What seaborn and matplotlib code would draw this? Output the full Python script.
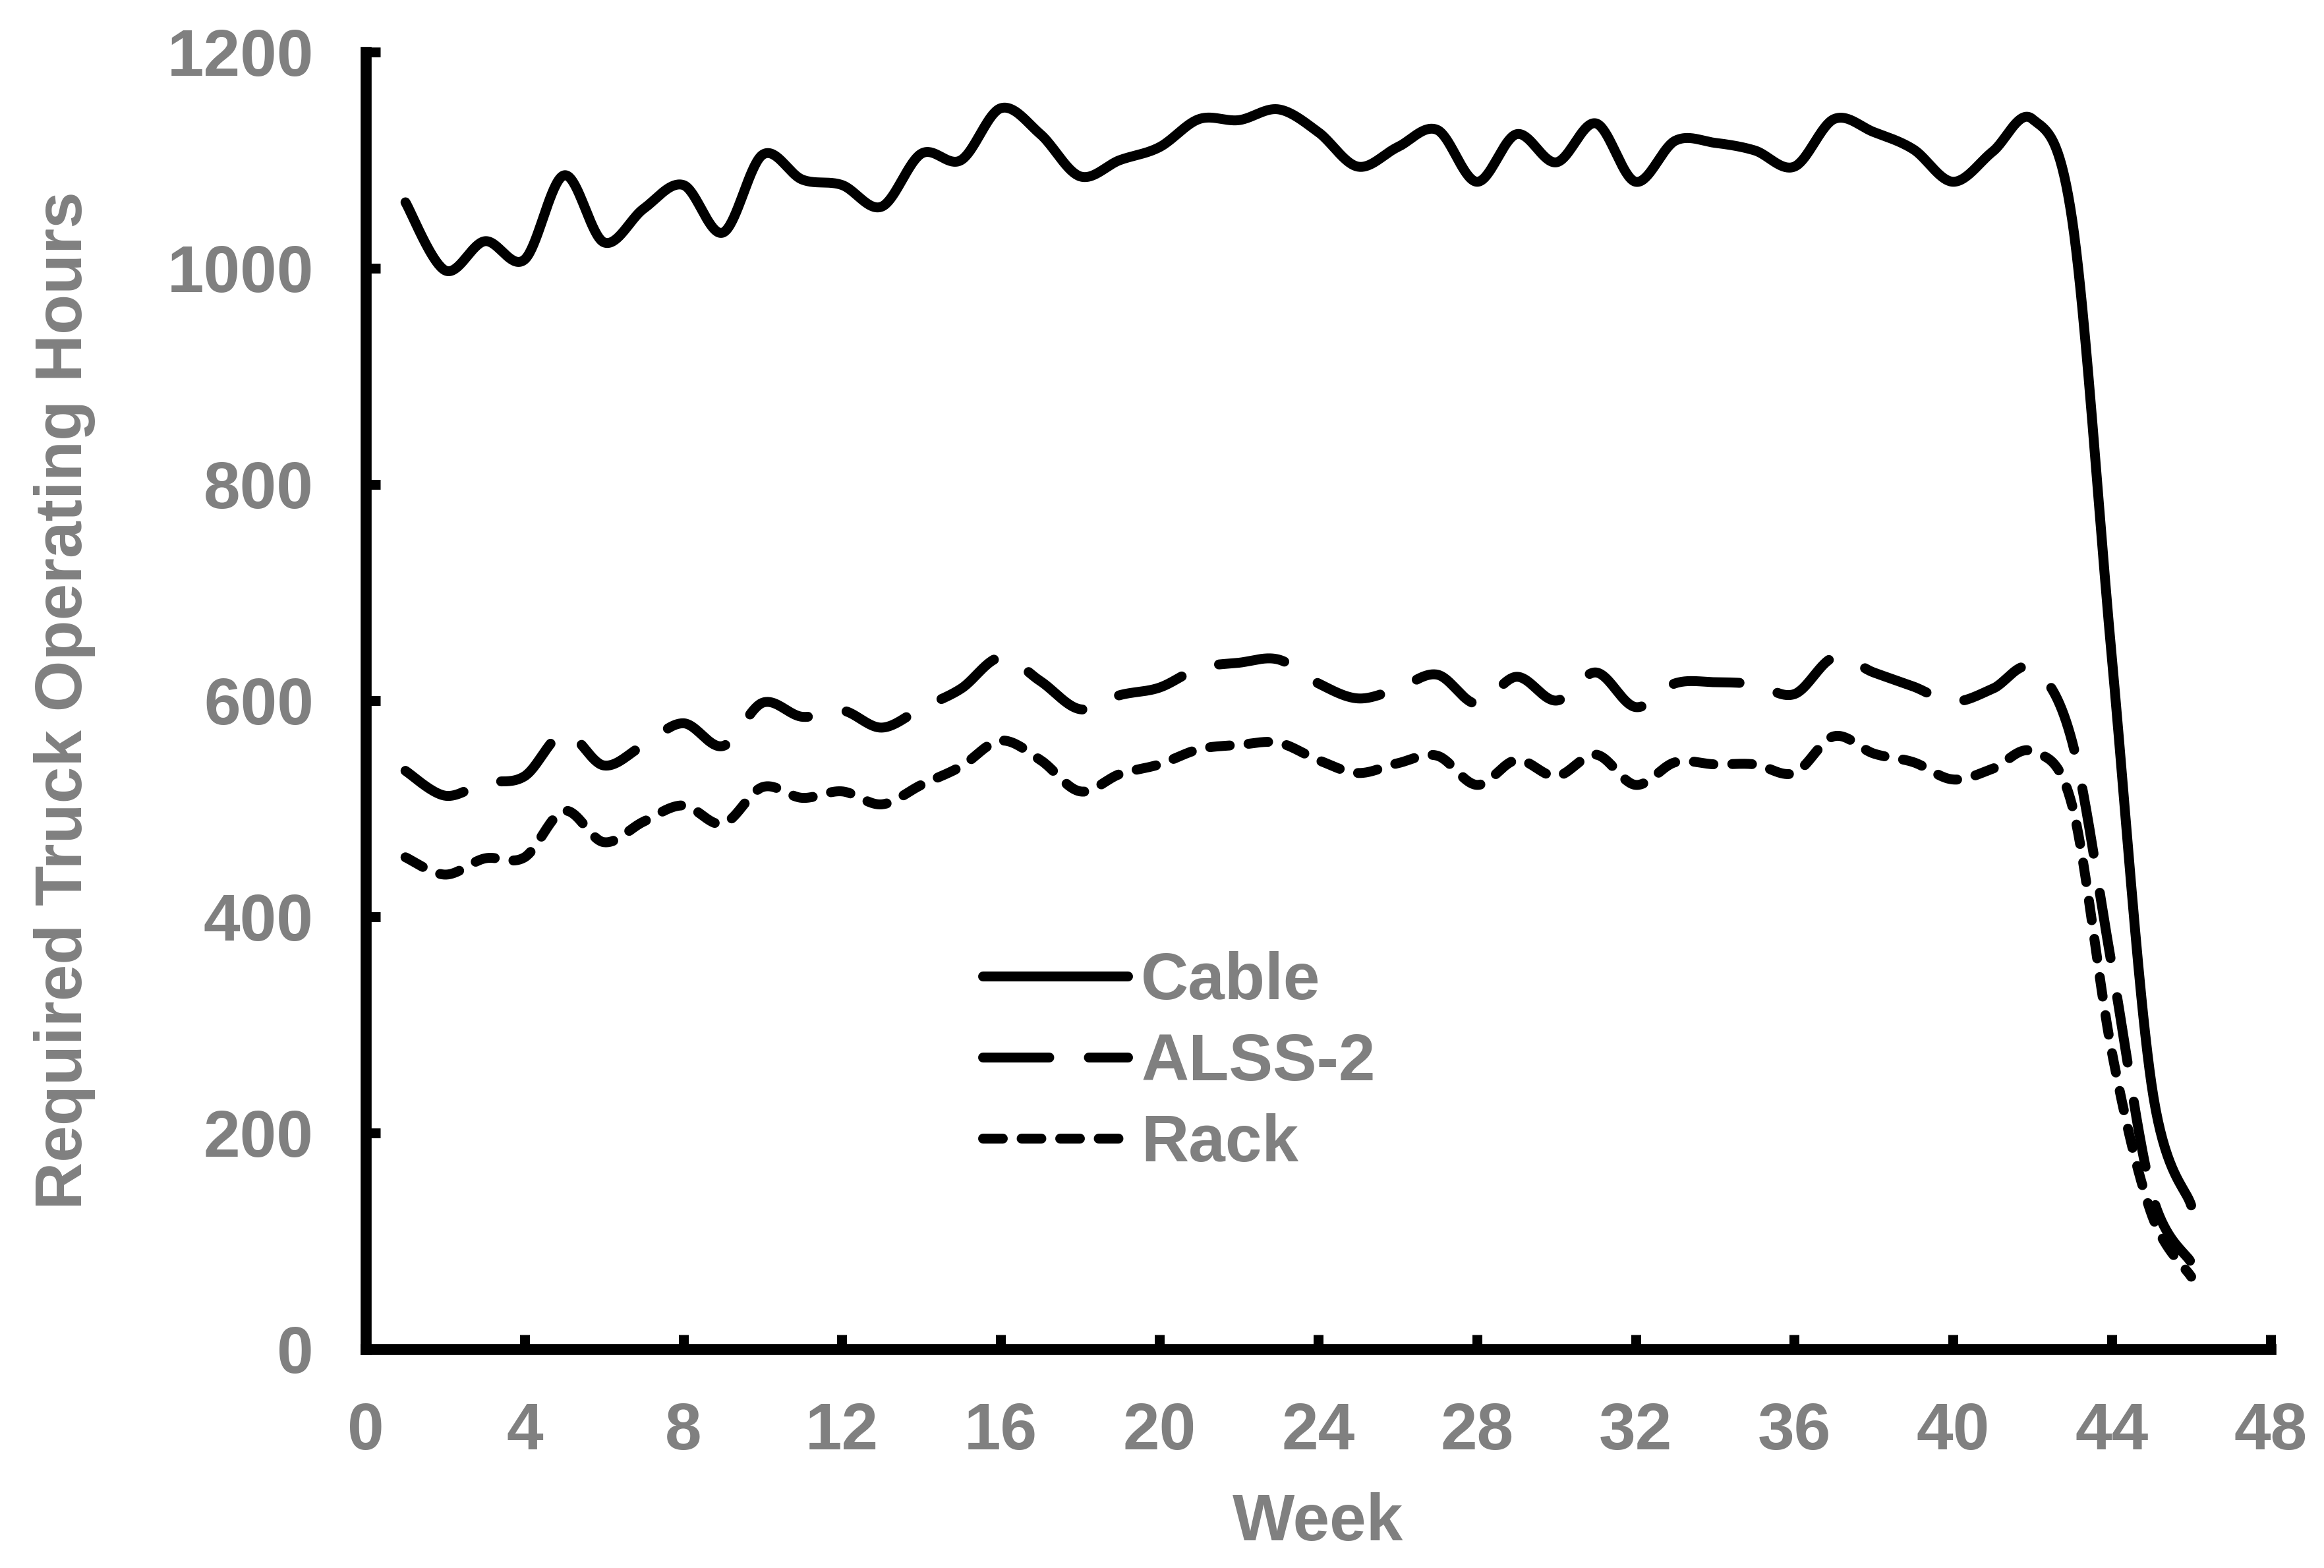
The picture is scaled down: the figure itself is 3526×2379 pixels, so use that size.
import numpy as np
import pandas as pd
import seaborn as sns
import matplotlib.pyplot as plt
from matplotlib.lines import Line2D

# Weekly truck operating hours
weeks = [1, 2, 3, 4, 5, 6, 7, 8, 9, 10,
         11, 12, 13, 14, 15, 16, 17, 18, 19, 20,
         21, 22, 23, 24, 25, 26, 27, 28, 29, 30,
         31, 32, 33, 34, 35, 36, 37, 38, 39, 40,
         41, 42, 43, 44, 45, 46]
cable = [1061, 998, 1025, 1008, 1086, 1024, 1055, 1077, 1033, 1105,
         1082, 1077, 1057, 1106, 1100, 1148, 1124, 1085, 1100, 1112,
         1138, 1137, 1147, 1126, 1094, 1112, 1128, 1080, 1124, 1098,
         1134, 1080, 1118, 1116, 1109, 1094, 1138, 1126, 1110, 1080,
         1108, 1138, 1045, 640, 245, 133]
alss2 = [535, 512, 524, 530, 570, 540, 559, 579, 558, 598,
         585, 591, 575, 593, 611, 640, 618, 592, 605, 612,
         630, 635, 638, 616, 602, 611, 624, 597, 622, 600,
         626, 594, 616, 617, 615, 606, 640, 626, 613, 599,
         611, 630, 562, 355, 145, 80]
rack = [455, 439, 454, 455, 498, 469, 488, 503, 486, 520,
        510, 516, 504, 522, 539, 563, 545, 516, 532, 541,
        555, 559, 561, 545, 533, 542, 549, 522, 545, 530,
        550, 522, 543, 541, 541, 533, 567, 551, 543, 527,
        537, 553, 503, 275, 125, 67]

series_names = ["Cable", "ALSS-2", "Rack"]
x_ticks = [0, 4, 8, 12, 16, 20, 24, 28, 32, 36, 40, 44, 48]
y_ticks = [0, 200, 400, 600, 800, 1000, 1200]

GREY = "#808080"
LW = 3.6
styles = {
    "Cable": "-",
    "ALSS-2": (0, (6.7, 4.0)),
    "Rack": (0, (2.0, 1.9)),
}


def smooth_curve(x, y, n=40):
    # Excel-style smoothed line: cubic Bezier through each point
    x = np.asarray(x, float)
    y = np.asarray(y, float)
    pts = np.column_stack([x, y])
    out = []
    t = np.linspace(0, 1, n)[:, None]
    for i in range(len(pts) - 1):
        p0 = pts[max(i - 1, 0)]
        p1 = pts[i]
        p2 = pts[i + 1]
        p3 = pts[min(i + 2, len(pts) - 1)]
        c1 = p1 + (p2 - p0) / 6
        c2 = p2 - (p3 - p1) / 6
        seg = ((1 - t) ** 3) * p1 + 3 * ((1 - t) ** 2) * t * c1 \
            + 3 * (1 - t) * t ** 2 * c2 + t ** 3 * p2
        out.append(seg if i == 0 else seg[1:])
    out = np.vstack(out)
    return out[:, 0], out[:, 1]


sns.set_style("white")
plt.rcParams["font.family"] = ["Liberation Sans", "DejaVu Sans"]
plt.rcParams["font.weight"] = "bold"

fig = plt.figure(figsize=(3526 / 300, 2379 / 300), dpi=300)
ax = fig.add_axes([0.1574, 0.1396, 0.977 - 0.1574, 0.9668 - 0.1396])

for name, vals in zip(series_names, [cable, alss2, rack]):
    sx, sy = smooth_curve(weeks, vals)
    df = pd.DataFrame({"Week": sx, "Hours": sy})
    sns.lineplot(data=df, x="Week", y="Hours", ax=ax, sort=False,
                 estimator=None, color="black", linewidth=LW,
                 linestyle=styles[name], dash_capstyle="round",
                 solid_capstyle="round", legend=False)

ax.set_xlim(0, 48)
ax.set_ylim(0, 1200)
ax.set_xticks(x_ticks)
ax.set_yticks(y_ticks)
ax.tick_params(axis="both", direction="in", length=5.3, width=3.6,
               color="black", labelsize=24, labelcolor=GREY, pad=19,
               bottom=True, left=True)
for lab in ax.get_xticklabels() + ax.get_yticklabels():
    lab.set_fontweight("bold")

for side in ["top", "right"]:
    ax.spines[side].set_visible(False)
for side in ["left", "bottom"]:
    ax.spines[side].set_linewidth(4.0)
    ax.spines[side].set_color("black")
    ax.spines[side].set_capstyle("projecting")

ax.set_xlabel("Week", fontsize=24, fontweight="bold", color=GREY, labelpad=10.5)
ax.set_ylabel("Required Truck Operating Hours", fontsize=24,
              fontweight="bold", color=GREY, labelpad=26)
ax.grid(False)

handles = [Line2D([0], [0], color="black", linewidth=LW,
                  linestyle=styles[n], dash_capstyle="round",
                  solid_capstyle="round") for n in series_names]
leg = ax.legend(handles, series_names, loc="upper left",
                bbox_to_anchor=(0.324, 0.307), frameon=False,
                fontsize=24, handlelength=2.2, handletextpad=0.2,
                labelspacing=0.29, borderpad=0, borderaxespad=0)
for txt in leg.get_texts():
    txt.set_color(GREY)
    txt.set_fontweight("bold")

fig.savefig("out.png", dpi=300)
